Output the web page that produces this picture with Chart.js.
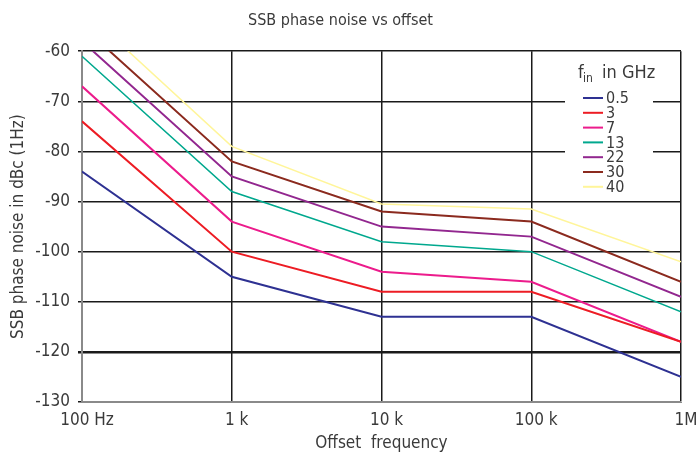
<!DOCTYPE html>
<html>
<head>
<meta charset="utf-8">
<script src="https://cdn.jsdelivr.net/npm/chart.js@4/dist/chart.umd.min.js"></script>
<style>
  html, body { margin: 0; padding: 0; background: #fff; }
  #wrap { width: 696px; height: 454px; }
</style>
</head>
<body>
<div id="wrap"><canvas id="chart"></canvas></div>
<script>
// data
const offsets = [100, 1000, 10000, 100000, 1000000];
const tickLabels = ['100 Hz', '1 k', '10 k', '100 k', '1M'];
const freqLabels = ['0.5', '3', '7', '13', '22', '30', '40'];
const noise05 = [-84, -105, -113, -113, -125];
const noise3 = [-74, -100, -108, -108, -118];
const noise7 = [-67, -94, -104, -106, -118];
const noise13 = [-61, -88, -98, -100, -112];
const noise22 = [-58, -85, -95, -97, -109];
const noise30 = [-55, -82, -92, -94, -106];
const noise40 = [-51.5, -79, -90.5, -91.5, -102];

const series = [noise05, noise3, noise7, noise13, noise22, noise30, noise40];
const colors = ['#2e3192', '#ed1c24', '#ec1c8c', '#00a88e', '#92278f', '#8b2a1e', '#fff59a'];
const widths = [2, 2, 2, 1.5, 2, 2, 1.5];

const FONT = '"Liberation Sans Narrow", "DejaVu Sans Condensed", Arial, sans-serif';
const TEXT = '#3a3a3a';

// legend drawn inside the plot, like the original
const insideLegend = {
    id: 'insideLegend',
    beforeDatasetsDraw(chart) {
        const ctx = chart.ctx;
        ctx.save();
        ctx.fillStyle = '#fff';
        ctx.fillRect(565, 58, 88, 138);

        ctx.fillStyle = TEXT;
        ctx.textBaseline = 'alphabetic';
        ctx.font = '18px ' + FONT;
        ctx.fillText('f', 578, 78);
        ctx.font = '12px ' + FONT;
        ctx.fillText('in', 583, 82);
        ctx.font = '18px ' + FONT;
        ctx.fillText('in GHz', 602, 78);

        ctx.font = '16px ' + FONT;
        ctx.textBaseline = 'middle';
        chart.data.datasets.forEach((ds, i) => {
            const y = 98 + i * 14.8;
            ctx.strokeStyle = ds.borderColor;
            ctx.lineWidth = 2;
            ctx.beginPath();
            ctx.moveTo(583, y);
            ctx.lineTo(603, y);
            ctx.stroke();
            ctx.fillStyle = TEXT;
            ctx.fillText(ds.label, 606, y + 1);
        });
        ctx.restore();
    }
};

const datasets = series.map((vals, i) => ({
    label: freqLabels[i],
    data: vals.map((v, j) => ({ x: offsets[j], y: v })),
    borderColor: colors[i],
    backgroundColor: colors[i],
    borderWidth: widths[i],
    pointRadius: 0,
    tension: 0
}));

new Chart(document.getElementById('chart'), {
    type: 'line',
    data: { datasets: datasets },
    plugins: [insideLegend],
    options: {
        responsive: true,
        maintainAspectRatio: false,
        animation: false,
        layout: { padding: { left: 0, right: 15, top: 0, bottom: 0 } },
        plugins: {
            legend: { display: false },
            tooltip: { enabled: false },
            title: {
                display: true,
                text: 'SSB phase noise vs offset',
                color: TEXT,
                font: { family: FONT, size: 16, weight: 'normal' },
                padding: { top: 11, bottom: 21 }
            }
        },
        scales: {
            x: {
                type: 'logarithmic',
                min: 100,
                max: 1000000,
                afterBuildTicks: scale => {
                    scale.ticks = offsets.map(v => ({ value: v }));
                },
                afterFit: scale => {
                    scale.height = 52;
                    scale.paddingLeft = 0;
                    scale.paddingRight = 0;
                },
                ticks: {
                    color: TEXT,
                    font: { family: FONT, size: 17 },
                    labelOffset: 5,
                    padding: 8,
                    maxRotation: 0,
                    autoSkip: false,
                    callback: (v) => tickLabels[offsets.indexOf(v)]
                },
                grid: { color: '#1a1a1a', lineWidth: 1.5, tickLength: 0 },
                border: { color: '#8a8a8a', width: 2 },
                title: {
                    display: true,
                    text: 'Offset  frequency',
                    color: TEXT,
                    font: { family: FONT, size: 17 },
                    padding: { top: 0, bottom: 0 }
                }
            },
            y: {
                min: -130,
                max: -60,
                afterFit: scale => { scale.width = 82; },
                ticks: {
                    stepSize: 10,
                    color: TEXT,
                    font: { family: FONT, size: 17 },
                    padding: 8
                },
                grid: {
                    color: '#1a1a1a',
                    lineWidth: c => c.tick && c.tick.value === -120 ? 2.5 : 1.5,
                    tickLength: 4
                },
                border: { color: '#8a8a8a', width: 2 },
                title: {
                    display: true,
                    text: 'SSB phase noise in dBc (1Hz)',
                    color: TEXT,
                    font: { family: FONT, size: 17 },
                    padding: { top: 8, bottom: 4 }
                }
            }
        }
    }
});
</script>
</body>
</html>
